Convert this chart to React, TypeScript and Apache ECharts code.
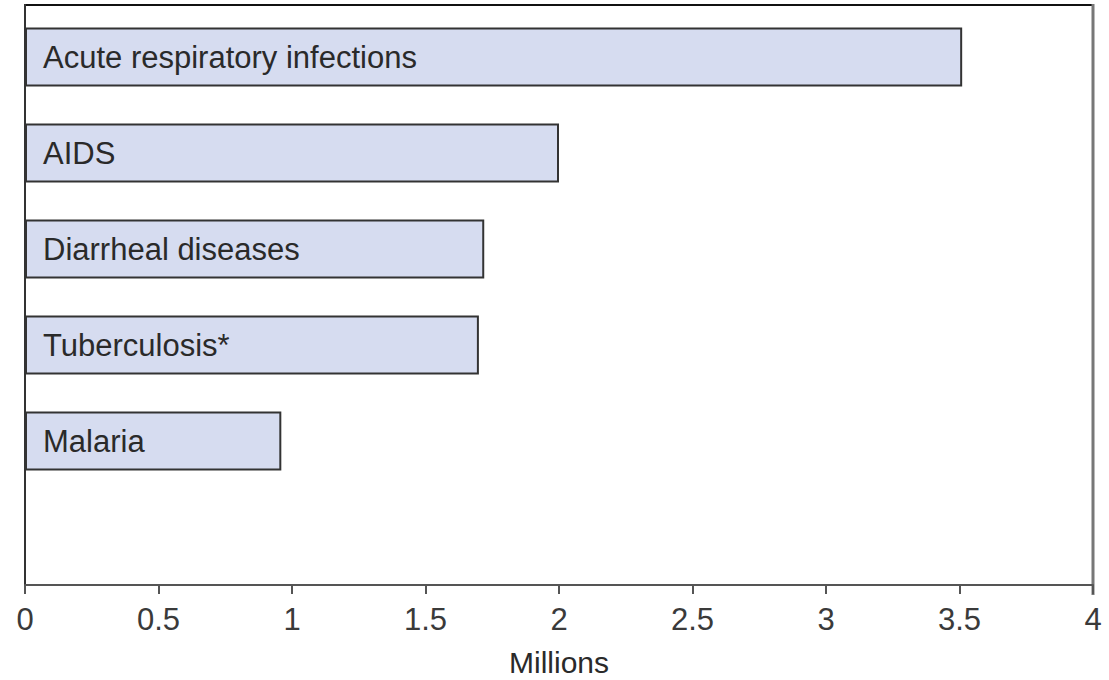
import React, { useEffect, useRef } from "react";
import * as echarts from "echarts";

const categories = [
  "Acute respiratory infections",
  "AIDS",
  "Diarrheal diseases",
  "Tuberculosis*",
  "Malaria",
  "",
];
const deaths = [3.51, 2.0, 1.72, 1.7, 0.96, null];
const xTicks = [0, 0.5, 1, 1.5, 2, 2.5, 3, 3.5, 4];
const axisName = "Millions";

export default function App() {
  const ref = useRef<HTMLDivElement>(null);
  useEffect(() => {
    if (!ref.current) return;
    const chart = echarts.init(ref.current, null, { renderer: "svg" });
    const font = "'Liberation Sans', Arial, sans-serif";
    chart.setOption({
      animation: false,
      backgroundColor: "#ffffff",
      grid: {
        left: 25,
        right: 16,
        top: 9,
        bottom: 95,
        containLabel: false,
        outerBoundsMode: "none",
      },
      xAxis: {
        type: "value",
        min: xTicks[0],
        max: xTicks[xTicks.length - 1],
        interval: 0.5,
        name: axisName,
        nameLocation: "middle",
        nameGap: 62,
        nameTextStyle: { fontSize: 30, color: "#2a2a2a", fontFamily: font },
        axisLine: { show: true, lineStyle: { color: "#555", width: 2 } },
        axisTick: { show: true, length: 9, lineStyle: { color: "#555", width: 2 } },
        axisLabel: {
          margin: 19,
          fontSize: 31,
          color: "#3a3a3a",
          fontFamily: font,
          formatter: (v: number) => String(v),
        },
        splitLine: { show: false },
      },
      yAxis: {
        type: "category",
        inverse: true,
        data: categories,
        axisLine: { show: false },
        axisTick: { show: false },
        axisLabel: { show: false },
        splitLine: { show: false },
      },
      graphic: [
        {
          type: "line",
          shape: { x1: 24, y1: 5, x2: 1093, y2: 5 },
          style: { stroke: "#111", lineWidth: 2 },
          silent: true,
        },
        {
          type: "line",
          shape: { x1: 25, y1: 4, x2: 25, y2: 586 },
          style: { stroke: "#333", lineWidth: 2 },
          silent: true,
        },
        {
          type: "line",
          shape: { x1: 1093, y1: 4, x2: 1093, y2: 595 },
          style: { stroke: "#777", lineWidth: 3 },
          silent: true,
        },
      ],
      series: [
        {
          type: "bar",
          data: deaths,
          barWidth: 59,
          itemStyle: { color: "#d6dcf0", borderColor: "#333", borderWidth: 2 },
          label: {
            show: true,
            position: "insideLeft",
            distance: 18,
            formatter: (p: any) => categories[p.dataIndex],
            fontSize: 31,
            color: "#2a2a2a",
            fontFamily: font,
          },
          silent: true,
        },
      ],
    });
    return () => chart.dispose();
  }, []);
  return <div ref={ref} style={{ width: 1109, height: 680, position: "absolute", left: 0, top: 0 }} />;
}
